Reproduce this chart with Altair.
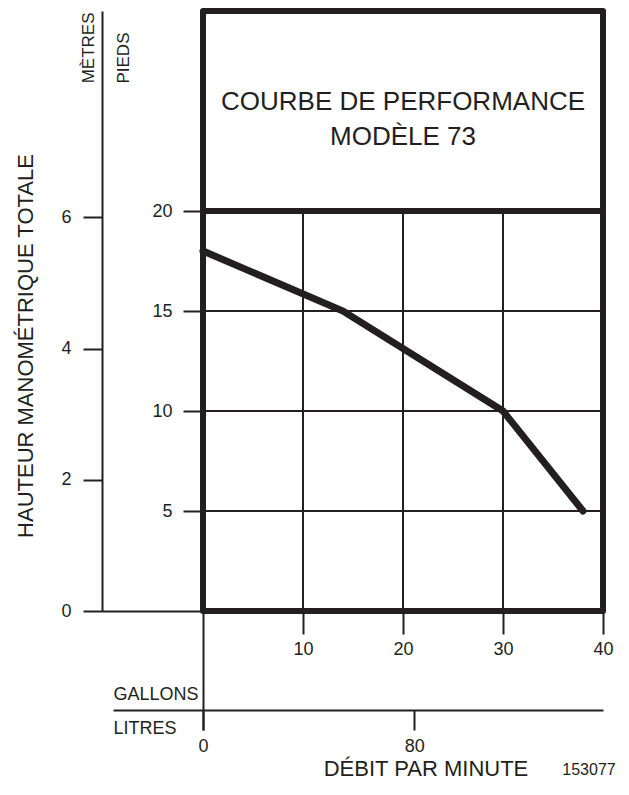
import altair as alt
import pandas as pd

# ---- data ----
gallons = [0, 14, 30, 38]
feet = [18, 15, 10, 5]

feet_ticks = [0, 5, 10, 15, 20]
metre_ticks = [0, 2, 4, 6]
gallon_ticks = [0, 10, 20, 30, 40]
litre_ticks = [0, 80]
grid_feet = [5, 10, 15]
grid_gallons = [10, 20, 30]
divider_feet = [20]

title_lines = ["COURBE DE PERFORMANCE", "MODÈLE 73"]
y_title = "HAUTEUR MANOMÉTRIQUE TOTALE"
x_title = "DÉBIT PAR MINUTE"
ref_code = "153077"
feet_label = "PIEDS"
metre_label = "MÈTRES"
gallon_label = "GALLONS"
litre_label = "LITRES"

FT_PER_M = 3.28084
L_PER_GAL = 3.78541
FEET_MAX = 30
GAL_MAX = 40

INK = "#231f20"
FONT = "Liberation Sans"

W, H = 400, 600

curve = pd.DataFrame({"gallons": gallons, "feet": feet})

xs = alt.Scale(domain=[0, GAL_MAX], nice=False, zero=False)
ys = alt.Scale(domain=[0, FEET_MAX], nice=False, zero=False)

feet_axis = alt.Axis(
    values=feet_ticks, orient="left", offset=0, domain=False, grid=False,
    tickSize={"condition": {"test": "datum.value === 0", "value": 101}, "value": 20},
    tickWidth=2, tickColor=INK,
    labelExpr="datum.value === 0 ? '' : datum.label",
    labelPadding=11, labelFontSize=18, labelColor=INK, labelFont=FONT,
    labelFlush=False, labelOverlap=False,
    title=feet_label, titleAngle=270, titleX=-75, titleY=21,
    titleAlign="right", titleBaseline="alphabetic", titleFontSize=17,
    titleFontWeight="normal", titleColor=INK, titleFont=FONT,
)

gal_axis = alt.Axis(
    values=gallon_ticks, orient="bottom", offset=0, domain=False, grid=False,
    tickSize={"condition": {"test": "datum.value === 0", "value": 119}, "value": 23},
    tickWidth=2, tickColor=INK,
    labelExpr="datum.value === 0 ? '' : datum.label",
    labelPadding=6, labelFontSize=18, labelColor=INK, labelFont=FONT,
    labelFlush=False, labelOverlap=False,
    title=gallon_label, titleX=-90, titleY=88, titleAngle=0,
    titleAlign="left", titleBaseline="alphabetic", titleFontSize=18,
    titleFontWeight="normal", titleColor=INK, titleFont=FONT,
)

litre_axis = alt.Axis(
    values=litre_ticks, orient="bottom", offset=99, domain=True,
    domainWidth=2, domainColor=INK, grid=False,
    tickSize=20, tickWidth=2, tickColor=INK,
    labelPadding=7, labelFontSize=18, labelColor=INK, labelFont=FONT,
    labelFlush=False, labelOverlap=False,
    title=litre_label, titleX=-90, titleY=23, titleAngle=0,
    titleAlign="left", titleBaseline="alphabetic", titleFontSize=18,
    titleFontWeight="normal", titleColor=INK, titleFont=FONT,
)

metre_axis = alt.Axis(
    values=metre_ticks, orient="left", offset=101, domain=True,
    domainWidth=2, domainColor=INK, grid=False,
    tickSize=19, tickWidth=2, tickColor=INK,
    labelPadding=12, labelFontSize=18, labelColor=INK, labelFont=FONT,
    labelFlush=False, labelOverlap=False,
    title=metre_label, titleAngle=270, titleX=-9, titleY=1,
    titleAlign="right", titleBaseline="alphabetic", titleFontSize=17,
    titleFontWeight="normal", titleColor=INK, titleFont=FONT,
)

# grid lines
hgrid = alt.Chart(pd.DataFrame({"feet": grid_feet})).mark_rule(
    color=INK, strokeWidth=2
).encode(y=alt.Y("feet:Q", scale=ys))

vgrid = alt.Chart(pd.DataFrame({"gallons": grid_gallons})).mark_rule(
    color=INK, strokeWidth=2
).encode(
    x=alt.X("gallons:Q", scale=xs),
    y=alt.datum(0),
    y2=alt.datum(divider_feet[0]),
)

divider = alt.Chart(pd.DataFrame({"feet": divider_feet})).mark_rule(
    color=INK, strokeWidth=6
).encode(y=alt.Y("feet:Q", scale=ys))

line = alt.Chart(curve).mark_line(
    color=INK, strokeWidth=7, strokeCap="round", clip=False
).encode(
    x=alt.X("gallons:Q", scale=xs, axis=gal_axis),
    y=alt.Y("feet:Q", scale=ys, axis=feet_axis),
)

title_text = alt.Chart(pd.DataFrame({"label": ["\n".join(title_lines)]})).mark_text(
    font=FONT, fontSize=26, color=INK, align="center", baseline="alphabetic",
    lineBreak="\n", lineHeight=35,
).encode(text="label:N", x=alt.value(W / 2), y=alt.value(99))

ytitle_text = alt.Chart(pd.DataFrame({"label": [y_title]})).mark_text(
    font=FONT, fontSize=22, color=INK, align="center", baseline="alphabetic",
    angle=270,
).encode(text="label:N", x=alt.value(-170), y=alt.value(335))

xtitle_text = alt.Chart(pd.DataFrame({"label": [x_title]})).mark_text(
    font=FONT, fontSize=22, color=INK, align="center", baseline="alphabetic",
).encode(text="label:N", x=alt.value(223), y=alt.value(765))

code_text = alt.Chart(pd.DataFrame({"label": [ref_code]})).mark_text(
    font=FONT, fontSize=16, color=INK, align="center", baseline="alphabetic",
).encode(text="label:N", x=alt.value(386), y=alt.value(764))

main = alt.layer(hgrid, vgrid, divider, line, title_text, ytitle_text, xtitle_text, code_text)

litre_range_left = -90
litre_layer = alt.Chart(curve).transform_calculate(
    litres=f"datum.gallons * {L_PER_GAL}"
).mark_point(opacity=0).encode(
    x=alt.X(
        "litres:Q",
        scale=alt.Scale(
            domain=[litre_range_left / W * GAL_MAX * L_PER_GAL, GAL_MAX * L_PER_GAL],
            range=[litre_range_left, W], nice=False, zero=False,
        ),
        axis=litre_axis,
    )
)

metre_layer = alt.Chart(curve).transform_calculate(
    metres=f"datum.feet / {FT_PER_M}"
).mark_point(opacity=0).encode(
    y=alt.Y(
        "metres:Q",
        scale=alt.Scale(domain=[0, FEET_MAX / FT_PER_M], nice=False, zero=False),
        axis=metre_axis,
    )
)

chart = alt.layer(main, litre_layer, metre_layer).resolve_scale(
    x="independent", y="independent"
).properties(
    width=W, height=H,
    padding={"left": 195, "top": 3, "right": 18, "bottom": 172},
    autosize=alt.AutoSizeParams(type="none"),
    background="white",
).configure(
    font=FONT
).configure_view(
    stroke=INK, strokeWidth=6, strokeJoin="round"
)

chart.save("out.html", embed_options={"renderer": "svg", "actions": False})
